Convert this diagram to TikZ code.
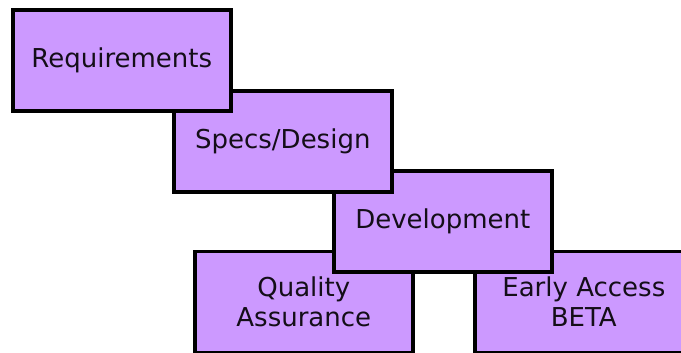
\documentclass[tikz,border=0pt]{standalone}
\usepackage{fontspec}
\setmainfont{DejaVu Sans}
\usepackage{tikz}
\usetikzlibrary{positioning}

\definecolor{stagepurple}{RGB}{204,153,255}
\definecolor{stageink}{RGB}{20,14,24}

\begin{document}
\begin{tikzpicture}[x=1pt,y=-1pt,
    stagebox/.style={draw=black, fill=stagepurple, line width=3.6pt,
      minimum width=218pt, minimum height=101pt, inner sep=0pt,
      anchor=north west, align=center, text=stageink,
      font=\fontsize{26}{30}\selectfont}]
    \useasboundingbox (0,0) rectangle (681,353);
    \clip (0,0) rectangle (681,353);

    % lowest row first, so the upper boxes lie on top
    \node[stagebox] (qa) at (193,249.5) {Quality\\Assurance};
    \node[stagebox] (beta) at (473,249.5) {Early Access\\BETA};
    \node[stagebox] (dev) at (332,169) {Development};
    \node[stagebox] (specs) at (172,89) {Specs/Design};
    \node[stagebox] (req) at (11,8.5) {Requirements};
  \end{tikzpicture}
\end{document}
